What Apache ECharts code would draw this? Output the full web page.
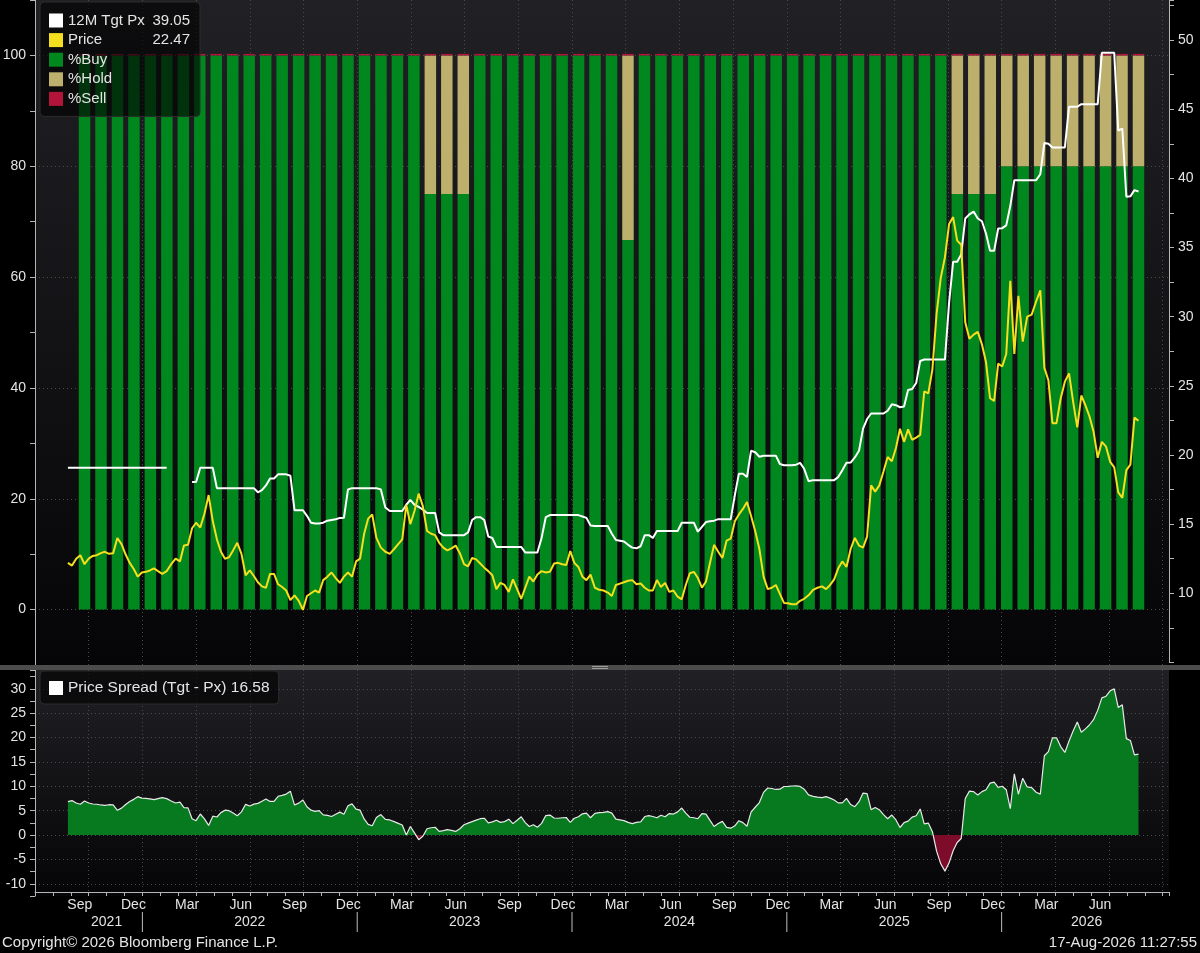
<!DOCTYPE html>
<html>
<head>
<meta charset="utf-8">
<title>Ratings, 12M target price and price spread</title>
<script src="https://cdn.jsdelivr.net/npm/echarts@6.0.0/dist/echarts.min.js"></script>
<style>
  html, body { margin: 0; padding: 0; background: #000; }
  #chart { width: 1200px; height: 953px; }
</style>
</head>
<body>
<div id="chart"></div>
<script>
// weekly closes start here, rating snapshots every 4 weeks start here
const weekStart = Date.UTC(2021, 7, 27)
const barStart = Date.UTC(2021, 8, 24)
const DAY = 864e5

// weekly price
const price = [
  12.2, 12.0, 12.5, 12.75, 12.1, 12.5, 12.7, 12.75, 12.9, 13.0,
  12.85, 12.9, 14.0, 13.55, 12.8, 12.2, 11.75, 11.2, 11.5, 11.55,
  11.65, 11.8, 11.6, 11.4, 11.6, 12.1, 12.5, 12.3, 13.45, 13.5,
  14.7, 15.1, 14.75, 15.75, 17.1, 15.2, 13.9, 13.0, 12.5, 12.6,
  13.1, 13.65, 12.85, 11.3, 11.65, 11.25, 10.8, 10.5, 10.4, 11.4,
  11.4, 10.65, 10.45, 10.2, 9.5, 9.85, 9.45, 8.8, 9.8, 10.0,
  10.2, 10.05, 10.95, 11.2, 11.5, 11.1, 10.75, 11.2, 11.5, 11.2,
  12.3, 12.5, 14.3, 15.4, 15.7, 14.0, 13.3, 13.0, 12.85, 13.2,
  13.55, 13.9, 16.4, 15.0, 15.95, 17.2, 16.3, 14.5, 14.3, 14.2,
  13.65, 13.3, 13.1, 13.25, 13.45, 12.9, 12.1, 11.95, 12.55, 12.45,
  12.15, 11.85, 11.6, 11.3, 10.3, 10.75, 10.6, 10.1, 11.0, 10.3,
  9.6, 10.4, 11.2, 10.85, 11.35, 11.6, 11.5, 11.55, 12.15, 12.2,
  12.1, 12.05, 13.05, 12.2, 11.9, 11.2, 10.95, 11.35, 10.4, 10.25,
  10.2, 10.05, 9.8, 10.6, 10.7, 10.8, 10.9, 10.95, 10.65, 10.7,
  10.4, 10.2, 10.2, 10.95, 10.45, 10.75, 10.1, 10.2, 9.75, 9.56,
  10.6, 11.45, 11.55, 11.1, 10.4, 10.85, 12.2, 13.5, 13.0, 12.55,
  13.8, 13.95, 15.2, 15.7, 16.1, 16.6, 15.6, 14.5, 13.2, 11.2,
  10.3, 10.4, 10.6, 9.95, 9.3, 9.28, 9.2, 9.2, 9.45, 9.6,
  9.85, 10.25, 10.4, 10.5, 10.3, 10.6, 11.0, 11.8, 12.3, 11.9,
  13.2, 14.0, 13.45, 13.3, 14.1, 17.8, 17.35, 17.8, 18.8, 19.85,
  19.55, 20.5, 21.9, 20.95, 21.85, 21.1, 21.25, 21.45, 24.6, 24.45,
  26.2, 30.2, 32.8, 34.3, 36.7, 37.2, 35.5, 35.2, 29.6, 28.4,
  28.7, 28.9, 28.0, 26.7, 24.1, 23.9, 26.6, 26.4, 27.3, 32.6,
  27.3, 31.5, 28.2, 30.0, 30.15, 31.1, 31.9, 26.3, 25.4, 22.3,
  22.3, 24.1, 25.3, 25.9, 23.8, 22.0, 24.3, 23.6, 22.8, 21.7,
  19.8, 20.95, 20.6, 19.5, 19.1, 17.3, 16.9, 18.9, 19.3, 22.7,
  22.47
]

// weekly 12M target price (null = not shown)
const target = [
  19.07, 19.07, 19.07, 19.07, 19.07, 19.07, 19.07, 19.07, 19.07, 19.07,
  19.07, 19.07, 19.07, 19.07, 19.07, 19.07, 19.07, 19.07, 19.07, 19.07,
  19.07, 19.07, 19.07, 19.07, 19.07, null, null, null, null, null,
  18.05, 18.05, 19.07, 19.07, 19.07, 19.07, 17.6, 17.6, 17.6, 17.6,
  17.6, 17.6, 17.6, 17.6, 17.6, 17.6, 17.3, 17.45, 17.8, 18.3,
  18.3, 18.6, 18.6, 18.6, 18.5, 16.0, 16.0, 16.0, 15.6, 15.1,
  15.05, 15.05, 15.1, 15.25, 15.3, 15.35, 15.45, 15.46, 17.5, 17.6,
  17.6, 17.6, 17.6, 17.6, 17.6, 17.6, 17.5, 16.2, 15.95, 15.95,
  15.95, 15.95, 16.4, 16.75, 16.4, 16.25, 16.05, 15.8, 15.8, 15.8,
  14.4, 14.2, 14.2, 14.2, 14.2, 14.2, 14.2, 14.4, 15.3, 15.5,
  15.5, 15.3, 14.1, 14.0, 13.35, 13.35, 13.35, 13.35, 13.35, 13.35,
  13.35, 12.95, 12.95, 12.95, 12.95, 14.0, 15.5, 15.65, 15.65, 15.65,
  15.65, 15.65, 15.65, 15.65, 15.65, 15.55, 15.45, 14.9, 14.86, 14.86,
  14.86, 14.86, 14.3, 13.85, 13.8, 13.75, 13.5, 13.3, 13.25, 13.4,
  14.2, 14.2, 14.0, 14.5, 14.5, 14.5, 14.5, 14.5, 14.5, 15.1,
  15.1, 15.1, 15.1, 14.45, 14.8, 15.15, 15.2, 15.25, 15.36, 15.36,
  15.36, 15.36, 17.1, 18.65, 18.65, 18.4, 20.3, 20.2, 19.87, 19.95,
  19.95, 19.95, 19.95, 19.35, 19.26, 19.26, 19.26, 19.3, 19.43, 19.0,
  18.1, 18.18, 18.18, 18.18, 18.18, 18.18, 18.18, 18.4, 18.9, 19.43,
  19.45, 19.82, 20.3, 21.9, 22.6, 23.0, 23.0, 23.0, 23.0, 23.2,
  23.66, 23.6, 23.45, 23.5, 24.7, 24.77, 25.2, 26.8, 26.9, 26.9,
  26.9, 26.9, 26.9, 26.9, 31.0, 33.97, 33.97, 34.5, 37.1, 37.4,
  37.6, 37.1, 36.9, 36.0, 34.76, 34.76, 36.38, 36.4, 36.6, 38.0,
  39.87, 39.87, 39.87, 39.87, 39.87, 39.87, 40.3, 42.57, 42.5, 42.24,
  42.24, 42.24, 42.24, 45.18, 45.18, 45.18, 45.37, 45.37, 45.37, 45.37,
  45.37, 49.08, 49.08, 49.08, 49.08, 43.45, 43.6, 38.67, 38.7, 39.15,
  39.05
]

// analyst split, one bar every 4 weeks
const buyPct = [
  100, 100, 100, 100, 100, 100, 100, 100, 100, 100,
  100, 100, 100, 100, 100, 100, 100, 100, 100, 100,
  100, 75, 75, 75, 100, 100, 100, 100, 100, 100,
  100, 100, 100, 66.7, 100, 100, 100, 100, 100, 100,
  100, 100, 100, 100, 100, 100, 100, 100, 100, 100,
  100, 100, 100, 75, 75, 75, 80, 80, 80, 80,
  80, 80, 80, 80, 80
]
const holdPct = [
  0, 0, 0, 0, 0, 0, 0, 0, 0, 0,
  0, 0, 0, 0, 0, 0, 0, 0, 0, 0,
  0, 25, 25, 25, 0, 0, 0, 0, 0, 0,
  0, 0, 0, 33.3, 0, 0, 0, 0, 0, 0,
  0, 0, 0, 0, 0, 0, 0, 0, 0, 0,
  0, 0, 0, 25, 25, 25, 20, 20, 20, 20,
  20, 20, 20, 20, 20
]
const sellPct = [
  0, 0, 0, 0, 0, 0, 0, 0, 0, 0,
  0, 0, 0, 0, 0, 0, 0, 0, 0, 0,
  0, 0, 0, 0, 0, 0, 0, 0, 0, 0,
  0, 0, 0, 0, 0, 0, 0, 0, 0, 0,
  0, 0, 0, 0, 0, 0, 0, 0, 0, 0,
  0, 0, 0, 0, 0, 0, 0, 0, 0, 0,
  0, 0, 0, 0, 0
]

// tick labels
const quarterLabels = { 2: 'Mar', 5: 'Jun', 8: 'Sep', 11: 'Dec' }
const yearLabels = ['2021', '2022', '2023', '2024', '2025', '2026']

const FONT = 'Liberation Sans, Arial, sans-serif'
const TXT = '#e4e4e4'
const AX = '#b5b5b5'
const GRID = '#4a4a4a'
const CLEAR = 'rgba(0,0,0,0)'
const GREEN = '#00871e'
const TAN = '#bcb06c'
const RED = '#b3143a'
const YELLOW = '#f5df1e'
const SPREAD_NAME = 'Price Spread (Tgt - Px)'

// x is measured in months since Jan 2021, so month starts are whole numbers
const monthIndex = t => {
  const d = new Date(t)
  const y = d.getUTCFullYear(), m = d.getUTCMonth()
  const days = new Date(Date.UTC(y, m + 1, 0)).getUTCDate()
  return (y - 2021) * 12 + m + (d.getUTCDate() - 1) / days
}

const weekX = price.map((_, i) => monthIndex(weekStart + i * 7 * DAY))
const barX = buyPct.map((_, i) => monthIndex(barStart + i * 28 * DAY))
const barDates = buyPct.map((_, i) => new Date(barStart + i * 28 * DAY).toISOString().slice(0, 10))

// Tgt - Px, target carried over the weeks where it is not drawn
let lastTgt = null
const spread = price.map((p, i) => {
  if (target[i] != null) lastTgt = target[i]
  return +(lastTgt - p).toFixed(2)
})

const W = 1200
const L = 35, R = 31
const X_MIN = 6
const X_MAX = 69.35
const dataEnd = weekX[weekX.length - 1]

// the rating bars sit on their own category grid, lined up with the month scale
const pxPerMonth = (W - L - R) / (X_MAX - X_MIN)
const barPx = barX.map(x => L + (x - X_MIN) * pxPerMonth)
const barStep = (barPx[barPx.length - 1] - barPx[0]) / (barPx.length - 1)

const yearCenters = yearLabels.map((_, k) => {
  const a = Math.max(k * 12, weekX[0])
  const b = Math.min(k * 12 + 12, X_MAX)
  return Math.round((a + b) / 2 * 4) / 4
})

const legendValues = {
  '12M Tgt Px': target[target.length - 1].toFixed(2),
  'Price': price[price.length - 1].toFixed(2)
}

const panelBg = {
  type: 'linear', x: 0, y: 0, x2: 0, y2: 1,
  colorStops: [{ offset: 0, color: '#212125' }, { offset: 1, color: '#050507' }]
}

const label = { color: TXT, fontSize: 14, fontFamily: FONT }

const xBase = (gridIndex, extra) => Object.assign({
  type: 'value', gridIndex, position: 'bottom', min: X_MIN, max: X_MAX, interval: 1,
  axisLine: { show: false, onZero: false }, axisTick: { show: false },
  axisLabel: { show: false }, splitLine: { show: false }
}, extra)

const quarterSplit = {
  show: true,
  lineStyle: { color: [GRID, CLEAR, CLEAR], type: [1, 3], width: 1 }
}

const option = {
  backgroundColor: '#000',
  animation: false,
  textStyle: { fontFamily: FONT },
  grid: [
    { left: L, right: R, top: 0, height: 665, show: true, backgroundColor: panelBg, borderWidth: 0, outerBoundsMode: 'none' },
    { left: L, right: R, top: 0, height: 662.4, outerBoundsMode: 'none' },
    { left: L, right: R, top: 670, height: 226, show: true, backgroundColor: panelBg, borderWidth: 0, outerBoundsMode: 'none' },
    {
      left: barPx[0] - barStep / 2, right: W - barPx[barPx.length - 1] - barStep / 2,
      top: 0, height: 665, outerBoundsMode: 'none'
    }
  ],
  xAxis: [
    xBase(0, { splitLine: quarterSplit }),
    xBase(1),
    xBase(2, {
      offset: -4,
      axisLine: { show: true, onZero: false, lineStyle: { color: AX } },
      axisTick: { show: true, length: 4, lineStyle: { color: AX } },
      splitLine: quarterSplit
    }),
    xBase(2, {
      offset: -4, interval: 0.5,
      axisLabel: Object.assign({}, label, {
        show: true, margin: 6,
        formatter: v => {
          const m = Math.floor(v)
          if (Math.abs(v - m - 0.5) > 1e-6 || v > dataEnd) return ''
          return quarterLabels[m % 12] || ''
        }
      })
    }),
    xBase(2, {
      offset: -4, interval: 0.25,
      axisLabel: Object.assign({}, label, {
        show: true, margin: 23,
        formatter: v => {
          const k = yearCenters.findIndex(c => Math.abs(c - v) < 1e-6)
          return k < 0 ? '' : yearLabels[k]
        }
      })
    }),
    xBase(2, {
      offset: -4,
      axisLabel: {
        show: true, margin: 20,
        formatter: v => (Math.abs(v % 12) < 1e-6 && v > X_MIN && v < dataEnd) ? '{s| }' : '',
        rich: { s: { width: 1, height: 20, backgroundColor: '#bdbdbd' } }
      }
    }),
    {
      type: 'category', gridIndex: 3, data: barDates, boundaryGap: true, show: false,
      axisLine: { onZero: false }
    }
  ],
  yAxis: [
    {
      type: 'value', gridIndex: 0, position: 'left',
      min: -10, max: 110, interval: 10,
      axisLine: { show: true, lineStyle: { color: AX } },
      axisTick: { show: true, length: 5, lineStyle: { color: AX } },
      axisLabel: Object.assign({}, label, {
        margin: 9,
        formatter: v => (v >= 0 && v <= 100 && v % 20 === 0) ? String(v) : ''
      }),
      splitLine: { show: true, lineStyle: { color: [CLEAR, GRID], type: [1, 3] } }
    },
    {
      type: 'value', gridIndex: 1, position: 'right',
      min: 5, max: 52.9, interval: 2.5,
      axisLine: { show: true, lineStyle: { color: AX } },
      axisTick: { show: true, length: 5, lineStyle: { color: AX } },
      axisLabel: Object.assign({}, label, {
        margin: 9,
        formatter: v => (v >= 10 && Math.abs(v % 5) < 1e-6) ? String(v) : ''
      }),
      splitLine: { show: false }
    },
    {
      type: 'value', gridIndex: 2, position: 'left',
      min: -12.5, max: 33.85, interval: 2.5,
      axisLine: { show: true, lineStyle: { color: AX } },
      axisTick: { show: true, length: 5, lineStyle: { color: AX } },
      axisLabel: Object.assign({}, label, {
        margin: 9,
        formatter: v => (v >= -10 && v <= 30 && Math.abs(v % 5) < 1e-6) ? String(v) : ''
      }),
      splitLine: { show: true, showMaxLine: false, lineStyle: { color: [CLEAR, GRID], type: [1, 3] } }
    },
    { type: 'value', gridIndex: 3, min: -10, max: 110, interval: 10, show: false, splitLine: { show: false } }
  ],
  legend: [
    {
      data: ['12M Tgt Px', 'Price', '%Buy', '%Hold', '%Sell'],
      orient: 'vertical', left: 40, top: 2,
      icon: 'rect', itemWidth: 14, itemHeight: 14, itemGap: 4.6,
      padding: [11, 10, 10, 9],
      backgroundColor: 'rgba(0,0,0,0.62)', borderColor: '#2c2c2c', borderWidth: 1, borderRadius: 4,
      selectedMode: false,
      formatter: name => legendValues[name]
        ? '{n|' + name + '}{v|' + legendValues[name] + '}'
        : '{n|' + name + '}',
      textStyle: {
        color: TXT, fontSize: 15, fontFamily: FONT,
        rich: {
          n: { width: 82, color: TXT, fontSize: 15, fontFamily: FONT },
          v: { width: 40, align: 'right', color: TXT, fontSize: 15, fontFamily: FONT }
        }
      }
    },
    {
      data: [{ name: SPREAD_NAME, itemStyle: { color: '#ffffff' } }],
      left: 40, top: 671,
      icon: 'rect', itemWidth: 14, itemHeight: 14,
      padding: [9, 9, 8, 9],
      backgroundColor: 'rgba(0,0,0,0.62)', borderColor: '#2c2c2c', borderWidth: 1, borderRadius: 4,
      selectedMode: false,
      formatter: name => name + ' ' + spread[spread.length - 1].toFixed(2),
      textStyle: { color: TXT, fontSize: 15.5, fontFamily: FONT }
    }
  ],
  visualMap: {
    show: false, type: 'piecewise', seriesIndex: 5, dimension: 1,
    pieces: [
      { min: -60, max: 0, color: '#7d0c2a' },
      { min: 0, max: 60, color: '#077a1f' }
    ]
  },
  title: [
    {
      text: 'Copyright\u00a9 2026 Bloomberg Finance L.P.', left: 2, top: 935, padding: 0,
      textStyle: { color: TXT, fontSize: 15, fontWeight: 'normal', fontFamily: FONT }
    },
    {
      text: '17-Aug-2026 11:27:55', right: 3, top: 935, padding: 0,
      textStyle: { color: TXT, fontSize: 15, fontWeight: 'normal', fontFamily: FONT }
    }
  ],
  graphic: [
    { type: 'rect', shape: { x: 0, y: 665, width: W, height: 5 }, style: { fill: '#4c4c4c' }, z: 100 },
    { type: 'rect', shape: { x: 592, y: 666, width: 16, height: 1 }, style: { fill: '#a0a0a0' }, z: 101 },
    { type: 'rect', shape: { x: 592, y: 668, width: 16, height: 1 }, style: { fill: '#a0a0a0' }, z: 101 }
  ],
  series: [
    {
      name: '%Buy', type: 'bar', xAxisIndex: 6, yAxisIndex: 3, stack: 'rating', barWidth: 11.5,
      itemStyle: { color: GREEN }, data: buyPct
    },
    {
      name: '%Hold', type: 'bar', xAxisIndex: 6, yAxisIndex: 3, stack: 'rating', barWidth: 11.5,
      itemStyle: { color: TAN }, data: holdPct
    },
    {
      name: '%Sell', type: 'bar', xAxisIndex: 6, yAxisIndex: 3, stack: 'rating', barWidth: 11.5,
      barMinHeight: 1.5,
      itemStyle: { color: RED }, data: sellPct
    },
    {
      name: '12M Tgt Px', type: 'line', xAxisIndex: 1, yAxisIndex: 1,
      showSymbol: false, symbol: 'none', connectNulls: false,
      itemStyle: { color: '#ffffff' }, lineStyle: { color: '#ffffff', width: 2 },
      data: weekX.map((x, i) => [x, target[i]])
    },
    {
      name: 'Price', type: 'line', xAxisIndex: 1, yAxisIndex: 1,
      showSymbol: false, symbol: 'none',
      itemStyle: { color: YELLOW }, lineStyle: { color: YELLOW, width: 2 },
      data: weekX.map((x, i) => [x, price[i]])
    },
    {
      name: SPREAD_NAME, type: 'line', xAxisIndex: 2, yAxisIndex: 2,
      showSymbol: false, symbol: 'none',
      lineStyle: { color: '#e8e8e8', width: 1.2 },
      areaStyle: { opacity: 1 },
      data: weekX.map((x, i) => [x, spread[i]])
    }
  ]
}

const chart = echarts.init(document.getElementById('chart'))
chart.setOption(option)
window.addEventListener('resize', () => chart.resize())
</script>
</body>
</html>
